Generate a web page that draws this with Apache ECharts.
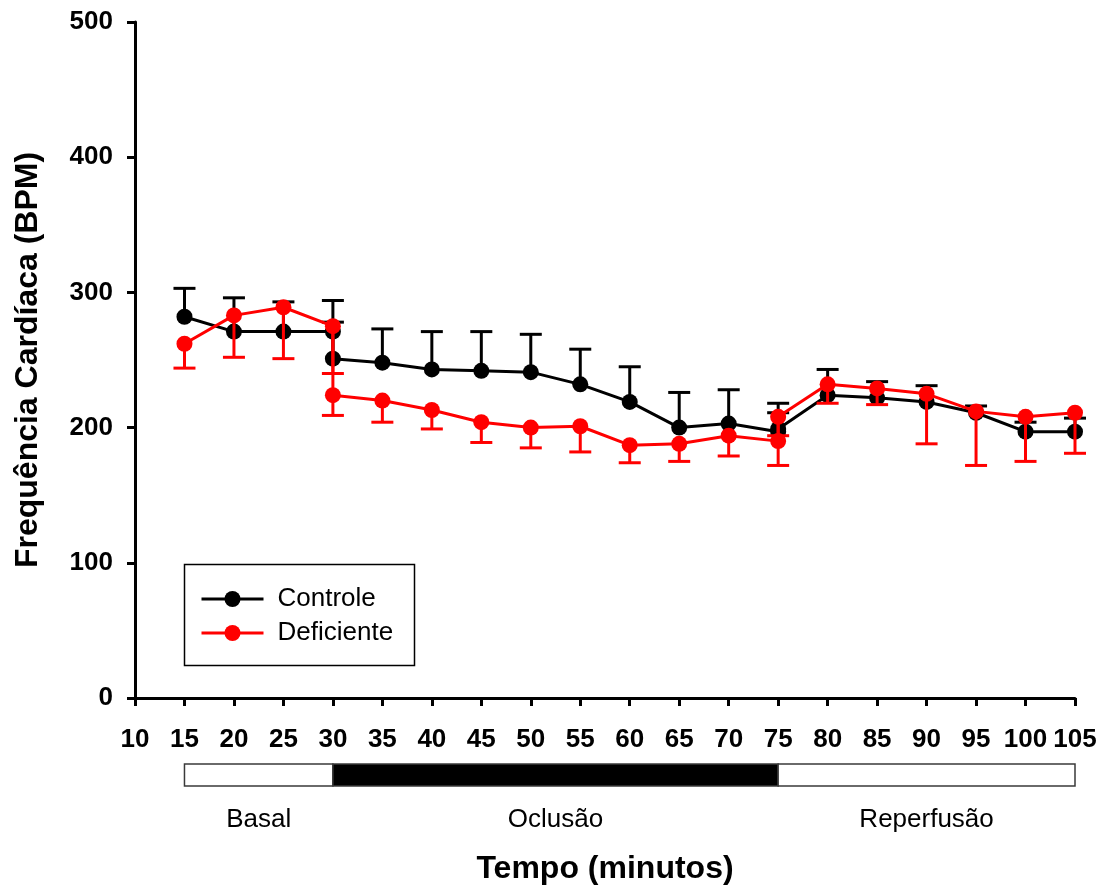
<!DOCTYPE html>
<html>
<head>
<meta charset="utf-8">
<script src="https://cdn.jsdelivr.net/npm/echarts@6/dist/echarts.min.js"></script>
<style>
  html, body { margin: 0; padding: 0; background: #ffffff; }
  #chart { width: 1103px; height: 891px; }
</style>
</head>
<body>
<div id="chart"></div>
<script>
// Sampling times (min); 30 and 75 appear twice: end of one phase, start of the next
const times = [15, 20, 25, 30, 30, 35, 40, 45, 50, 55, 60, 65, 70, 75, 75, 80, 85, 90, 95, 100, 105];

// Heart rate (BPM), mean and SEM
const controleMean = [282, 271, 271, 271, 251, 248, 243, 242, 241, 232, 219, 200, 203, 197, 199, 224, 222, 219, 211, 197, 197];
const controleSem  = [21, 25, 22, 23, 27, 25, 28, 29, 28, 26, 26, 26, 25, 21, 12, 19, 12, 12, 5, 7, 10];
const deficienteMean = [262, 283, 289, 275, 224, 220, 213, 204, 200, 201, 187, 188, 194, 190, 208, 232, 229, 225, 212, 208, 211];
const deficienteSem  = [18, 31, 38, 35, 15, 16, 14, 15, 15, 19, 13, 13, 15, 18, 14, 14, 12, 37, 40, 33, 30];

// Experimental protocol phases
const phaseNames = ['Basal', 'Oclusão', 'Reperfusão'];
const phaseStart = [15, 30, 75];
const phaseEnd = [30, 75, 105];
const phaseFill = ['#ffffff', '#000000', '#ffffff'];

const xTicks = { min: 10, max: 105, interval: 5 };
const yTicks = { min: 0, max: 500, interval: 100 };

const FONT = '"Liberation Sans", Arial, Helvetica, sans-serif';

const pairs = (xs, ys) => xs.map((x, i) => [x, ys[i]]);
const triples = (xs, ys, es) => xs.map((x, i) => [x, ys[i], es[i]]);

// One-sided SEM bars: dir = +1 draws upward, -1 downward
function errorBars(dir, color) {
  return function (params, api) {
    const x = api.value(0), m = api.value(1), e = api.value(2);
    const p0 = api.coord([x, m]);
    const p1 = api.coord([x, m + dir * e]);
    const half = 11;
    return {
      type: 'group',
      children: [
        { type: 'line', shape: { x1: p0[0], y1: p0[1], x2: p1[0], y2: p1[1] },
          style: { stroke: color, lineWidth: 3 } },
        { type: 'line', shape: { x1: p1[0] - half, y1: p1[1], x2: p1[0] + half, y2: p1[1] },
          style: { stroke: color, lineWidth: 3 } }
      ]
    };
  };
}

// Protocol bar with phase names below
function phaseBlocks(params, api) {
  const i = params.dataIndex;
  const a = api.coord([api.value(0), 1]);
  const b = api.coord([api.value(1), 0]);
  return {
    type: 'group',
    children: [
      { type: 'rect', shape: { x: a[0], y: a[1], width: b[0] - a[0], height: b[1] - a[1] },
        style: { fill: phaseFill[i], stroke: '#3a3a3a', lineWidth: 1.5 } },
      { type: 'text', x: (a[0] + b[0]) / 2, y: b[1] + 34,
        style: { text: phaseNames[i], fill: '#000', font: '26px ' + FONT,
                 align: 'center', verticalAlign: 'middle' } }
    ]
  };
}

const chart = echarts.init(document.getElementById('chart'), null, { renderer: 'canvas' });

const axisCommon = {
  axisLine: { show: true, lineStyle: { color: '#000', width: 3 } },
  axisTick: { show: true, inside: false, length: 8, lineStyle: { color: '#000', width: 3 } },
  splitLine: { show: false },
  nameTextStyle: { color: '#000', fontFamily: FONT, fontWeight: 'bold', fontSize: 32 }
};

chart.setOption({
  backgroundColor: '#ffffff',
  animation: false,
  grid: [
    { left: 135, right: 28, top: 22, bottom: 193, containLabel: false, outerBoundsMode: 'none' },
    { left: 135, right: 28, top: 764, height: 22, containLabel: false, outerBoundsMode: 'none' }
  ],
  xAxis: [
    Object.assign({}, axisCommon, {
      type: 'value', gridIndex: 0,
      min: xTicks.min, max: xTicks.max, interval: xTicks.interval,
      name: 'Tempo (minutos)', nameLocation: 'middle', nameGap: 155,
      axisLabel: { color: '#000', fontFamily: FONT, fontWeight: 'bold', fontSize: 26, margin: 29,
                   showMinLabel: true, showMaxLabel: true, hideOverlap: false }
    }),
    { type: 'value', gridIndex: 1, min: xTicks.min, max: xTicks.max, show: false }
  ],
  yAxis: [
    Object.assign({}, axisCommon, {
      type: 'value', gridIndex: 0,
      min: yTicks.min, max: yTicks.max, interval: yTicks.interval,
      name: 'Frequência Cardíaca (BPM)', nameLocation: 'middle', nameGap: 91,
      axisLabel: { color: '#000', fontFamily: FONT, fontWeight: 'bold', fontSize: 26, margin: 22 }
    }),
    { type: 'value', gridIndex: 1, min: 0, max: 1, show: false }
  ],
  legend: {
    orient: 'vertical', left: 200, top: 586, padding: 0,
    itemWidth: 62, itemHeight: 20, itemGap: 8,
    lineStyle: { width: 3 },
    textStyle: { color: '#000', fontFamily: FONT, fontSize: 26, lineHeight: 24, padding: [0, 0, 0, 9] },
    data: ['Controle', 'Deficiente']
  },
  graphic: [
    { type: 'rect', left: 182, top: 562, z: 100,
      shape: { width: 230, height: 101 },
      style: { fill: 'none', stroke: '#000', lineWidth: 1.5 } }
  ],
  series: [
    { name: 'Controle-sem', type: 'custom', xAxisIndex: 0, yAxisIndex: 0, z: 1,
      renderItem: errorBars(1, '#000000'), data: triples(times, controleMean, controleSem),
      encode: { x: 0, y: 1 }, silent: true },
    { name: 'Controle', type: 'line', xAxisIndex: 0, yAxisIndex: 0, z: 2,
      data: pairs(times, controleMean), symbol: 'circle', symbolSize: 16,
      lineStyle: { color: '#000000', width: 3 }, itemStyle: { color: '#000000' } },
    { name: 'Deficiente-sem', type: 'custom', xAxisIndex: 0, yAxisIndex: 0, z: 3,
      renderItem: errorBars(-1, '#ff0000'), data: triples(times, deficienteMean, deficienteSem),
      encode: { x: 0, y: 1 }, silent: true },
    { name: 'Deficiente', type: 'line', xAxisIndex: 0, yAxisIndex: 0, z: 4,
      data: pairs(times, deficienteMean), symbol: 'circle', symbolSize: 16,
      lineStyle: { color: '#ff0000', width: 3 }, itemStyle: { color: '#ff0000' } },
    { name: 'Protocolo', type: 'custom', xAxisIndex: 1, yAxisIndex: 1,
      renderItem: phaseBlocks, data: phaseStart.map((s, i) => [s, phaseEnd[i]]),
      encode: { x: [0, 1] }, silent: true, clip: false }
  ]
});
</script>
</body>
</html>
